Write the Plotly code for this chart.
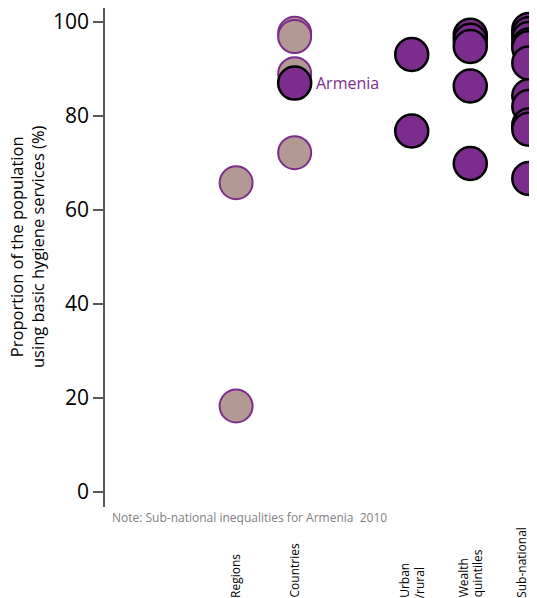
import plotly.graph_objects as go

# ---- data ----
categories = ["Regions", "Countries", "Urban<br>/rural", "Wealth<br>quintiles", "Sub-national<br>regions"]
cat_pos = [0, 1, 3, 4, 5]

regions = [65.8, 18.3]
countries = [97.6, 96.9, 89.0, 72.2]
armenia_value = [87.0]
urban_rural = [93.1, 76.8]
wealth_quintiles = [97.2, 96.1, 94.8, 86.4, 69.9]
subnational = [98.4, 97.5, 96.5, 95.1, 94.5, 91.3, 84.3, 82.0, 78.1, 77.2, 66.7]

ytick_vals = [0, 20, 40, 60, 80, 100]

PURPLE = "#7b2c8c"
LIGHT = "#b39893"
FONT = "Open Sans"

fig = go.Figure()

def light(xpos, vals):
    fig.add_trace(go.Scatter(
        x=[xpos] * len(vals), y=vals, mode="markers", cliponaxis=False,
        marker=dict(size=33, color=LIGHT, line=dict(color=PURPLE, width=2)),
        hoverinfo="y", showlegend=False))

def dark(xpos, vals):
    fig.add_trace(go.Scatter(
        x=[xpos] * len(vals), y=vals, mode="markers", cliponaxis=False,
        marker=dict(size=33, color=PURPLE, line=dict(color="#000000", width=2.5)),
        hoverinfo="y", showlegend=False))

light(cat_pos[0], regions)
light(cat_pos[1], countries)
dark(cat_pos[1], armenia_value)
dark(cat_pos[2], urban_rural)
dark(cat_pos[3], wealth_quintiles)
dark(cat_pos[4], subnational)

# Armenia label
fig.add_annotation(x=cat_pos[1], y=armenia_value[0], xref="x", yref="y",
                   text="Armenia", showarrow=False, xanchor="left", yanchor="middle",
                   xshift=19, font=dict(family=FONT, size=16, color=PURPLE))

# category labels (rotated, one annotation per line for tighter spacing)
LINE_GAP = 14.5
for name, p in zip(categories, cat_pos):
    lines = name.split("<br>")
    n = len(lines)
    for i, ln in enumerate(lines):
        off = (i - (n - 1) / 2) * LINE_GAP
        fig.add_annotation(x=p, y=-0.180, xref="x", yref="paper", text=ln,
                           showarrow=False, textangle=-90,
                           xanchor="center", yanchor="bottom", yshift=-3, xshift=off,
                           font=dict(family=FONT, size=12, color="#000000"))

# note
fig.add_annotation(x=0.0116, y=-0.001, xref="paper", yref="paper",
                   text="Note: Sub-national inequalities for Armenia  2010",
                   showarrow=False, xanchor="left", yanchor="top",
                   font=dict(family=FONT, size=12, color="#7f7f7f"))

# y axis title
fig.add_annotation(x=-0.1806, y=0.523, xref="paper", yref="paper",
                   text="Proportion of the population<br>using basic hygiene services (%)",
                   showarrow=False, textangle=-90, xanchor="center", yanchor="middle",
                   font=dict(family=FONT, size=16.5, color="#000000"))

fig.update_layout(
    width=560, height=590,
    margin=dict(l=97, r=31, t=0, b=91),
    paper_bgcolor="white", plot_bgcolor="white",
    font=dict(family=FONT, color="#000000"),
    xaxis=dict(range=[-2.24, 5.14], visible=False, showgrid=False, zeroline=False),
    yaxis=dict(range=[-3.19, 102.98], tickvals=ytick_vals, showgrid=False, zeroline=False,
               showline=True, linecolor="#595959", linewidth=1.5,
               ticks="outside", ticklen=10, tickcolor="#595959", tickwidth=1.5,
               ticklabeloverflow="allow",
               tickfont=dict(family=FONT, size=21, color="#000000")),
)

fig.write_html("out.html")
